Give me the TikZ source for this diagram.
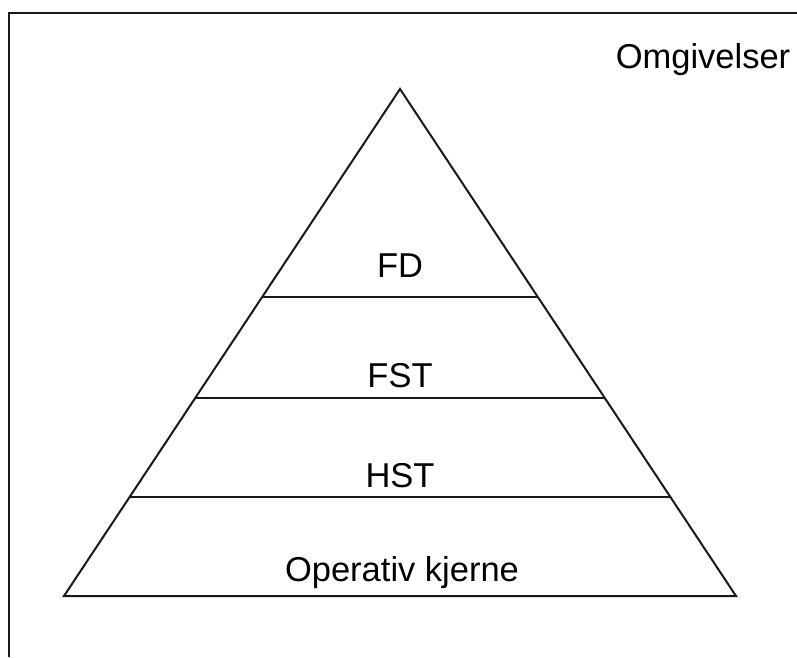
\documentclass[tikz,border=0pt]{standalone}
\usepackage{fontspec}
\setmainfont{Liberation Sans}
\usetikzlibrary{calc}
\begin{document}
\begin{tikzpicture}[x=1pt,y=-1pt,
  edge/.style={line width=2pt, line join=miter, black!90},
  lbl/.style={font=\fontsize{34.5}{38}\selectfont, anchor=base, inner sep=0pt}]
\useasboundingbox (0,0) rectangle (797,657);
% frame (top and left sides)
\draw[edge] (9,657) -- (9,13) -- (797,13);
% pyramid
\coordinate (apex) at (400,89);
\coordinate (bl) at (64,596);
\coordinate (br) at (736,596);
\draw[edge] (bl) -- (apex) -- (br) -- cycle;
% layer divisions
\coordinate (l1a) at ($(apex)!0.4103!(bl)$);
\coordinate (l1b) at ($(apex)!0.4103!(br)$);
\coordinate (l2a) at ($(apex)!0.6095!(bl)$);
\coordinate (l2b) at ($(apex)!0.6095!(br)$);
\coordinate (l3a) at ($(apex)!0.8047!(bl)$);
\coordinate (l3b) at ($(apex)!0.8047!(br)$);
\draw[edge] (l1a) -- (l1b);
\draw[edge] (l2a) -- (l2b);
\draw[edge] (l3a) -- (l3b);
% labels
\node[lbl] (fd) at (400,277) {FD};
\node[lbl] (fst) at (400,387) {FST};
\node[lbl] (hst) at (400,487) {HST};
\node[lbl] (ok) at (402,581) {Operativ kjerne};
\node[lbl] (omg) at (703,68) {Omgivelser};
\end{tikzpicture}
\end{document}
